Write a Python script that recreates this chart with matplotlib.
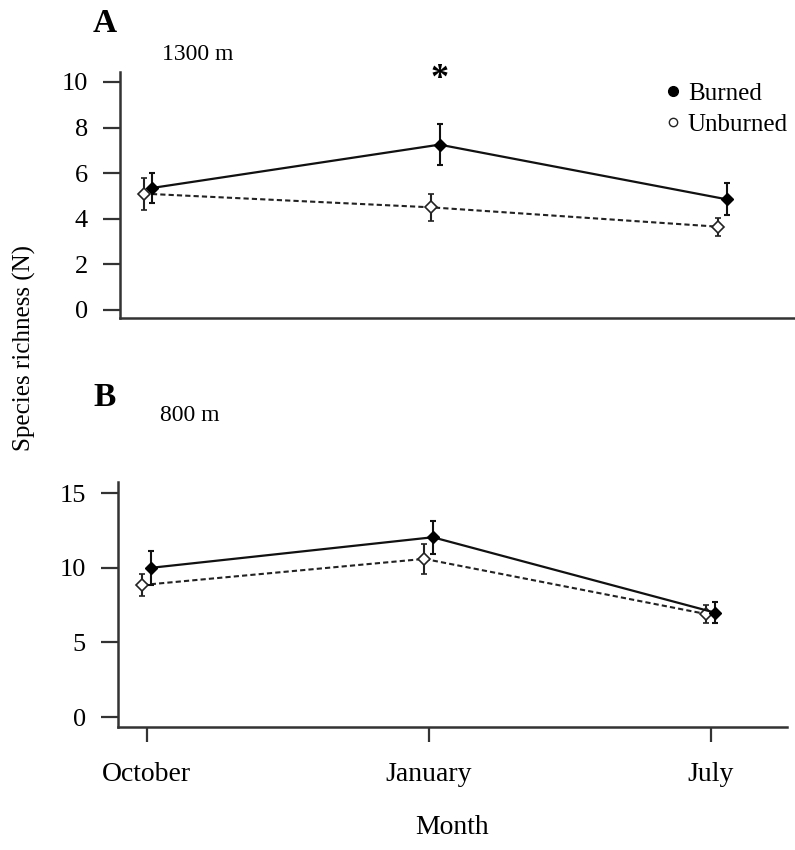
import matplotlib
matplotlib.use('Agg')
import matplotlib.pyplot as plt
from matplotlib.lines import Line2D
import numpy as np

plt.rcParams['font.family'] = ['Liberation Serif', 'DejaVu Serif']

months = ['October', 'January', 'July']

# panel A, 1300 m
burned_A = [5.35, 7.25, 4.85]
burned_A_err = [0.67, 0.9, 0.7]
unburned_A = [5.1, 4.5, 3.65]
unburned_A_err = [0.7, 0.6, 0.4]

# panel B, 800 m
burned_B = [10.0, 12.05, 7.0]
burned_B_err = [1.15, 1.1, 0.7]
unburned_B = [8.85, 10.6, 6.9]
unburned_B_err = [0.75, 1.0, 0.6]

x = np.arange(len(months))
dodge = 0.015

fig = plt.figure(figsize=(7.95, 8.5), dpi=100)
axA = fig.add_axes([0.151, 0.626, 0.849, 0.2894])
axB = fig.add_axes([0.148, 0.1447, 0.8415, 0.288])


def draw(ax, b, be, u, ue):
    ax.errorbar(x - dodge, u, yerr=ue, color='#222222', lw=1.5, ls=(0, (2.5, 1.5)),
                marker='D', ms=6, mfc='white', mec='#222222', mew=1.2,
                ecolor='#222222', elinewidth=1.5, capsize=2.5, capthick=1.5, zorder=2)
    ax.errorbar(x + dodge, b, yerr=be, color='#111111', lw=1.6, ls='-',
                marker='D', ms=6, mfc='black', mec='black',
                ecolor='#111111', elinewidth=1.5, capsize=2.5, capthick=1.5, zorder=3)
    for s in ['top', 'right']:
        ax.spines[s].set_visible(False)
    for s in ['left', 'bottom']:
        ax.spines[s].set_linewidth(1.8)
        ax.spines[s].set_color('#333333')
    ax.tick_params(axis='y', length=12, width=1.6, color='#333333', pad=11, labelsize=19)


draw(axA, burned_A, burned_A_err, unburned_A, unburned_A_err)
axA.set_xlim(-0.097, 2.252)
axA.set_ylim(-0.35, 10.44)
axA.set_yticks([0, 2, 4, 6, 8, 10])
axA.set_xticks([])
axA.text(1 + dodge, 10.1, '*', ha='center', va='center', fontsize=26, fontweight='bold')

handles = [Line2D([], [], marker='o', color='black', ls='none', ms=7),
           Line2D([], [], marker='o', color='#222222', mfc='white', ls='none', ms=6)]
axA.legend(handles, ['Burned', 'Unburned'], loc='upper left', bbox_to_anchor=(0.808, 0.956),
           frameon=False, handlelength=0.6, handletextpad=0.3, labelspacing=0.32,
           fontsize=18, borderaxespad=0, borderpad=0)

draw(axB, burned_B, burned_B_err, unburned_B, unburned_B_err)
axB.set_xlim(-0.103, 2.27)
axB.set_ylim(-0.67, 15.74)
axB.set_yticks([0, 5, 10, 15])
axB.set_xticks(x)
axB.set_xticklabels(months)
axB.tick_params(axis='x', length=11, width=1.6, color='#333333', pad=14, labelsize=20)

fig.text(93 / 795, 1 - 24 / 850, 'A', fontsize=24, fontweight='bold', va='center', ha='left')
fig.text(162 / 795, 1 - 54 / 850, '1300 m', fontsize=17, va='center', ha='left')
fig.text(93 / 795, 1 - 397 / 850, 'B', fontsize=24, fontweight='bold', va='center', ha='left')
fig.text(160 / 795, 1 - 415 / 850, '800 m', fontsize=17, va='center', ha='left')
fig.text(24 / 795, 1 - 348 / 850, 'Species richness (N)', fontsize=18, rotation=90,
         va='center', ha='center')
fig.text(452 / 795, 1 - 828 / 850, 'Month', fontsize=20, va='center', ha='center')

fig.savefig('out.png', dpi=100)
